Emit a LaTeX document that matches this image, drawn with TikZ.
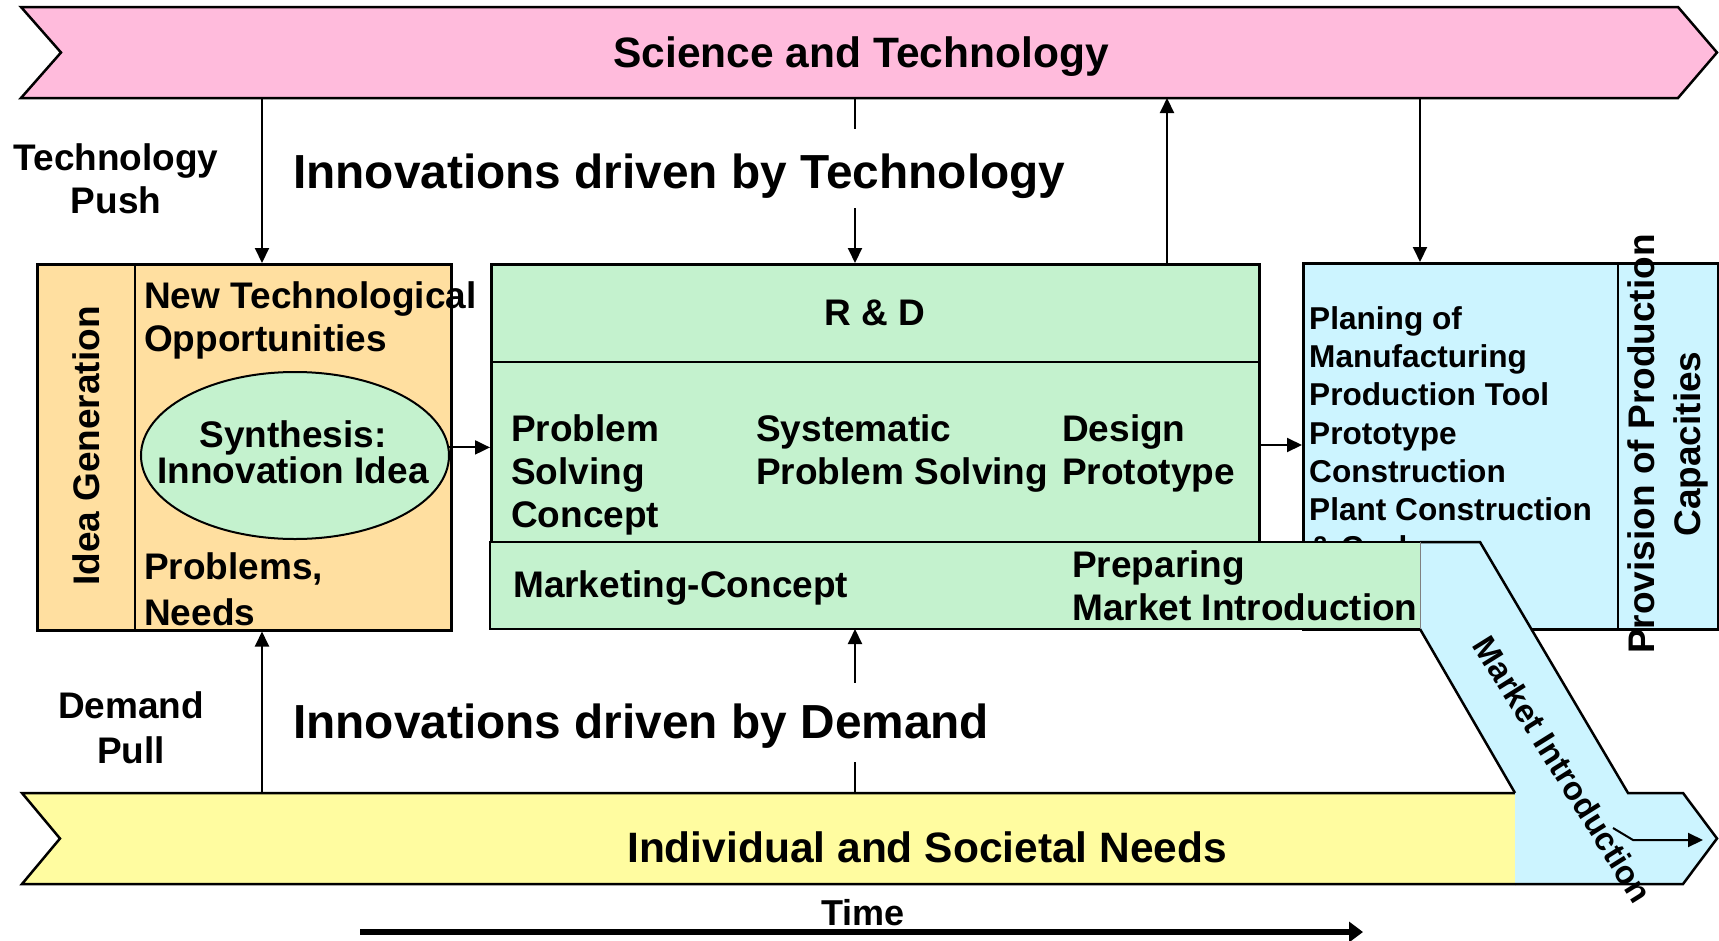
\documentclass[tikz,border=0pt]{standalone}
\usepackage{fontspec}
\setmainfont{Liberation Sans}
\usetikzlibrary{arrows.meta,shapes.geometric}
\newcommand\fsz[2]{\fontsize{#1bp}{#2bp}\selectfont\bfseries}
\definecolor{cpink}{RGB}{255,187,220}
\definecolor{cyel}{RGB}{255,252,160}
\definecolor{corg}{RGB}{255,223,160}
\definecolor{cgrn}{RGB}{196,242,206}
\definecolor{cblu}{RGB}{204,244,255}
\tikzset{
  bx/.style={draw=black, line width=2.5bp, inner sep=0pt, anchor=north west},
  edge/.style={draw=black, line width=2.5bp},
  arr/.style={line width=2bp, -{Triangle[length=15bp,width=14bp]}},
  lbl/.style={inner sep=0pt, font=\fsz{37}{43}},
  big/.style={inner xsep=3bp, inner ysep=0pt, fill=white, anchor=base west, font=\fsz{47.8}{56}},
}
\begin{document}
\begin{tikzpicture}[x=1bp,y=-1bp]
\useasboundingbox (0,0) rectangle (1719,940);
\fill[white] (0,0) rectangle (1719,940);

% Science and Technology banner
\coordinate (p1) at (21,7);
\coordinate (p2) at (1678,7);
\coordinate (p3) at (1717,52.5);
\coordinate (p4) at (1678,98);
\coordinate (p5) at (21,98);
\coordinate (p6) at (61,52.5);
\draw[edge, fill=cpink] (p1)--(p2)--(p3)--(p4)--(p5)--(p6)--cycle;
\node[inner sep=0pt, anchor=base, font=\fsz{42.5}{48}] (st) at (861,67) {Science and Technology};

% Individual and Societal Needs banner
\coordinate (y1) at (1515,793);
\coordinate (y2) at (22,793);
\coordinate (y3) at (60,838.5);
\coordinate (y4) at (22,884);
\coordinate (y5) at (1515,884);
\fill[cyel] (y1)--(y2)--(y3)--(y4)--(y5)--cycle;
\draw[edge] (y1)--(y2)--(y3)--(y4)--(y5);
\node[inner sep=0pt, anchor=base west, font=\fsz{42.5}{48}] (isn) at (627,862) {Individual and Societal Needs};

% Idea generation box
\node[bx, fill=corg, minimum width=414bp, minimum height=366bp] (idea) at (36,263) {};
\draw[edge] (135,263) -- (135,629);
\node[lbl, rotate=90] (ig) at (86,446) {Idea Generation};
\node[lbl, align=left, anchor=north west] (ntech) at (144,281.5) {New Technological\\Opportunities};
\node[lbl, align=left, anchor=north west, font=\fsz{37}{46}] (probs) at (144,552.5) {Problems,\\Needs};
\node[ellipse, draw=black, line width=2bp, fill=cgrn, minimum width=308bp, minimum height=167bp, inner sep=0pt] (ell) at (295,455.5) {};
\node[lbl, align=center, anchor=north, font=\fsz{37}{34}] (synth) at (293,420.7) {Synthesis:\\Innovation Idea};

% R&D box
\node[bx, fill=cgrn, minimum width=768bp, minimum height=279bp] (rd) at (490,263) {};
\draw[edge] (490,362) -- (1258,362);
\node[lbl] (rdl) at (875,313) {R \& D};
\node[lbl, align=left, anchor=north west] (psc) at (511,414.5) {Problem\\Solving\\Concept};
\node[lbl, align=left, anchor=north west] (sps) at (756,414.5) {Systematic\\Problem Solving};
\node[lbl, align=left, anchor=north west] (dpr) at (1062,414.5) {Design\\Prototype};

% Planning box
\node[bx, fill=cblu, minimum width=415bp, minimum height=366bp] (plan) at (1302,262) {};
\draw[edge] (1618,262) -- (1618,628);
\node[inner sep=0pt, align=left, anchor=north west, font=\fsz{31.6}{38.2}] (plt) at (1309,306.4)
  {Planing of\\Manufacturing\\Production Tool\\Prototype\\Construction\\Plant Construction\\\& Cycle};
\node[lbl, rotate=90, align=center, font=\fsz{37}{46}] (prov) at (1668,444) {Provision of Production\\Capacities};

% Marketing box
\node[inner sep=0pt, outer sep=0pt, anchor=north west, fill=cgrn, minimum width=930bp, minimum height=87bp] (mkt) at (490,542) {};
\draw[edge] (mkt.north east) -- (mkt.north west) -- (mkt.south west) -- (mkt.south east);
\node[lbl, anchor=base west] (mc) at (513,597) {Marketing-Concept};
\node[lbl, align=left, anchor=north west] (pmi) at (1072,550.5) {Preparing\\Market Introduction};

% Market introduction arrow
\coordinate (mA) at (1420,542);
\coordinate (mB) at (1480,542);
\coordinate (mC) at (1628,793);
\coordinate (mD) at (1683,793);
\coordinate (mE) at (1717,838.5);
\coordinate (mF) at (1683,884);
\coordinate (mG) at (1515,884);
\coordinate (mH) at (1515,793);
\coordinate (mI) at (1420,629);
\fill[cblu] (mA)--(mB)--(mC)--(mD)--(mE)--(mF)--(mG)--(mH)--(mI)--cycle;
\draw[edge] (mA)--(mB)--(mC)--(mD)--(mE)--(mF)--(mG);
\draw[edge] (mI)--(mH);
\draw[gray, line width=1bp] (mA)--(mI);
\node[inner sep=0pt, rotate=-58, font=\fsz{32.8}{38}] (mi) at (1563,769) {Market Introduction};
\coordinate (s0) at (1613,828);
\coordinate (s1) at (1633,840);
\coordinate (s2) at (1703,840);
\draw[arr] (s0) -- (s1) -- (s2);

% Connectors
\coordinate (ta1) at (262,98);
\coordinate (ta2) at (855,98);
\coordinate (ta3) at (1167,98);
\coordinate (ta4) at (1420,98);
\coordinate (ba1) at (262,793);
\coordinate (ba2) at (855,793);
\coordinate (ra) at (1258,445);
\draw[arr] (ta1) -- (ta1 |- idea.north);
\draw[arr] (ta2) -- (ta2 |- rd.north);
\draw[arr] (ta3 |- rd.north) -- (ta3);
\draw[arr] (ta4) -- (ta4 |- plan.north);
\draw[arr] (ba1) -- (ba1 |- idea.south);
\draw[arr] (ba2) -- (ba2 |- mkt.south);
\draw[arr] (ell.3.5) -- (ell.3.5 -| rd.west);
\draw[arr] (ra) -- (ra -| plan.west);

% Side labels
\node[lbl, align=center, anchor=north] (tpush) at (116,143.5) {Technology\\Push};
\node[lbl, align=center, anchor=north, font=\fsz{37}{45}] (dpull) at (131,691.5) {Demand\\Pull};
\node[big, text height=59bp, text depth=20bp] (idt) at (290,188) {Innovations driven by Technology};
\node[big, text height=55bp, text depth=24bp] (idd) at (290,738) {Innovations driven by Demand};

% Time
\coordinate (t0) at (360,932);
\coordinate (t1) at (1363,932);
\draw[line width=6bp, -{Triangle[length=14bp,width=20bp]}] (t0) -- (t1);
\node[inner sep=0pt, anchor=base, font=\fsz{36}{40}] (time) at (863,925) {Time};
\end{tikzpicture}
\end{document}
